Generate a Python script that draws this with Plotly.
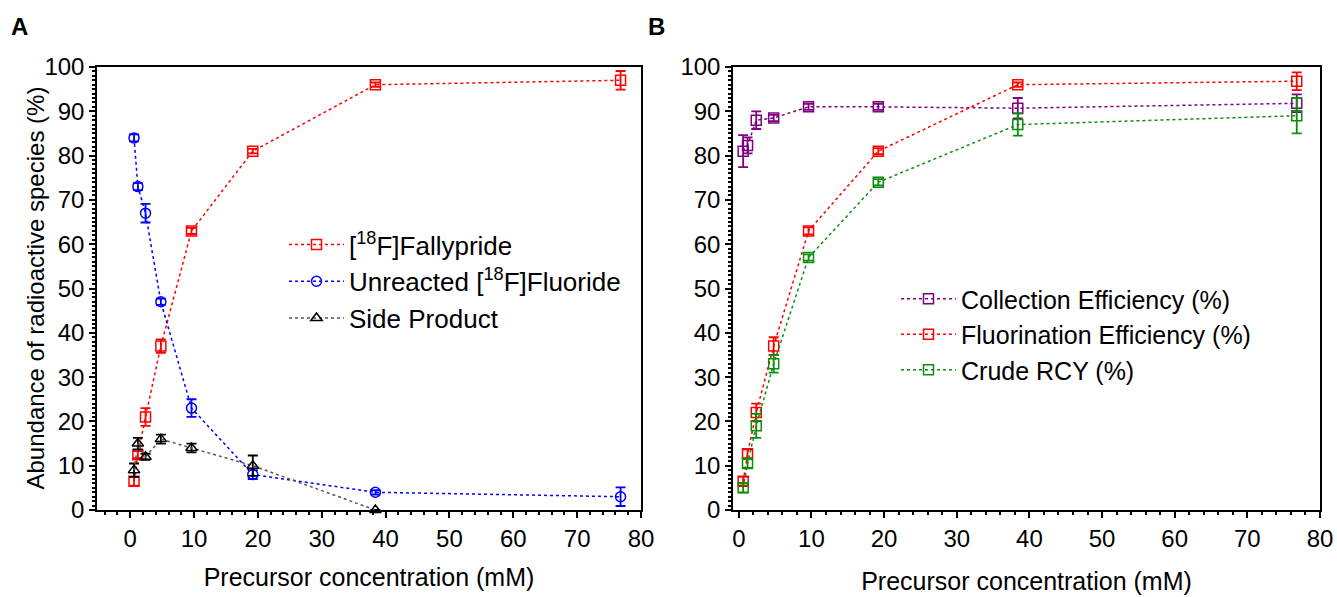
import plotly.graph_objects as go

# ---------------- data ----------------
conc = [0.6, 1.2, 2.4, 4.8, 9.6, 19.2, 38.4, 76.8]

# Panel A
fallypride = [6.5, 12.5, 21, 37, 63, 81, 96, 97]
fallypride_err = [1.0, 0.8, 2.0, 1.5, 0.7, 0.5, 0.5, 2.1]
fluoride = [84, 73, 67, 47, 23, 8, 4, 3]
fluoride_err = [0.8, 0.8, 2.1, 0.7, 2.0, 1.0, 0.5, 2.1]
side_conc = [0.6, 1.2, 2.4, 4.8, 9.6, 19.2, 38.4]
side_product = [9, 15, 12, 16, 14, 10, 0]
side_err = [1.5, 1.3, 0.7, 1.0, 1.0, 2.3, 0.0]

# Panel B
collection = [81, 82.3, 88, 88.5, 91, 91, 90.7, 91.8]
collection_err = [3.6, 1.8, 2.0, 0.7, 0.7, 0.7, 2.3, 2.0]
fluorination = [6.5, 12.7, 22, 37, 63, 81, 96, 96.8]
fluorination_err = [1.0, 1.0, 2.0, 2.0, 0.8, 0.7, 0.5, 2.0]
crude_rcy = [5, 10.5, 19, 33, 57, 74, 87, 89]
crude_err = [1.0, 1.0, 2.7, 2.0, 0.7, 0.7, 2.5, 4.0]

x_ticks = [0, 10, 20, 30, 40, 50, 60, 70, 80]
y_ticks = [0, 10, 20, 30, 40, 50, 60, 70, 80, 90, 100]

RED = "#ff0000"
BLUE = "#0000ff"
BLACK = "#000000"
PURPLE = "#800080"
GREEN = "#0b8f0b"

W, H = 1337, 597
FONT = "Liberation Sans, Arial, sans-serif"


def series(x, y, err, name, color, symbol, xaxis, yaxis, legend, line_color=None):
    return go.Scatter(
        x=x, y=y, name=name, mode="lines+markers",
        xaxis=xaxis, yaxis=yaxis, legend=legend,
        line=dict(color=line_color or color, width=1.5, dash="dot"),
        marker=dict(symbol=symbol, size=10, color=color,
                    line=dict(color=color, width=1.5)),
        error_y=dict(type="data", array=err, visible=True, color=color,
                     thickness=1.8, width=5),
        cliponaxis=False,
    )


fig = go.Figure()
fig.add_trace(series(conc, fallypride, fallypride_err, "[<sup>18</sup>F]Fallypride",
                     RED, "square-open", "x", "y", "legend"))
fig.add_trace(series(conc, fluoride, fluoride_err, "Unreacted [<sup>18</sup>F]Fluoride",
                     BLUE, "circle-open", "x", "y", "legend"))
fig.add_trace(series(side_conc, side_product, side_err, "Side Product",
                     BLACK, "triangle-up-open", "x", "y", "legend", line_color="#555555"))

fig.add_trace(series(conc, collection, collection_err, "Collection Efficiency (%)",
                     PURPLE, "square-open", "x2", "y2", "legend2"))
fig.add_trace(series(conc, fluorination, fluorination_err, "Fluorination Efficiency (%)",
                     RED, "square-open", "x2", "y2", "legend2"))
fig.add_trace(series(conc, crude_rcy, crude_err, "Crude RCY (%)",
                     GREEN, "square-open", "x2", "y2", "legend2"))

ydom = [1 - 510 / H, 1 - 67 / H]

axis_common = dict(
    showline=True, linecolor="black", linewidth=1.5, mirror=True,
    ticks="outside", ticklen=6, tickwidth=1.5, tickcolor="black",
    showgrid=False, zeroline=False,
    tickfont=dict(family=FONT, size=24, color="black"),
)

fig.update_layout(
    width=W, height=H,
    margin=dict(l=0, r=0, t=0, b=0, autoexpand=False),
    paper_bgcolor="white", plot_bgcolor="white",
    font=dict(family=FONT, size=24, color="black"),
    xaxis=dict(domain=[97 / W, 641 / W], range=[-5.2, 80], tickvals=x_ticks,
               minor=dict(dtick=2, tick0=0, ticks="outside", ticklen=3, tickcolor="black"),
               title=dict(text="Precursor concentration (mM)",
                          font=dict(family=FONT, size=25, color="black"), standoff=18),
               anchor="y", **axis_common),
    yaxis=dict(domain=ydom, range=[0, 100], tickvals=y_ticks,
               minor=dict(dtick=1, tick0=0, ticks="outside", ticklen=3, tickcolor="black"),
               anchor="x", **axis_common),
    xaxis2=dict(domain=[733 / W, 1320 / W], range=[-0.8, 80], tickvals=x_ticks,
                minor=dict(dtick=2, tick0=0, ticks="outside", ticklen=3, tickcolor="black"),
                title=dict(text="Precursor concentration (mM)",
                           font=dict(family=FONT, size=25, color="black"), standoff=22),
                anchor="y2", **axis_common),
    yaxis2=dict(domain=ydom, range=[0, 100], tickvals=y_ticks,
                minor=dict(dtick=1, tick0=0, ticks="outside", ticklen=3, tickcolor="black"),
                anchor="x2", **axis_common),
    legend=dict(x=284 / W, y=1 - 221 / H, xanchor="left", yanchor="top",
                bgcolor="rgba(0,0,0,0)", itemwidth=55, tracegroupgap=0,
                font=dict(family=FONT, size=26, color="black")),
    legend2=dict(x=896 / W, y=1 - 276 / H, xanchor="left", yanchor="top",
                 bgcolor="rgba(0,0,0,0)", itemwidth=55, tracegroupgap=0,
                 font=dict(family=FONT, size=25, color="black")),
    annotations=[
        dict(text="Abundance of radioactive species (%)", textangle=-90,
             x=35 / W, y=(1 - 510 / H + 1 - 67 / H) / 2, xref="paper", yref="paper",
             xanchor="center", yanchor="middle", showarrow=False,
             font=dict(family=FONT, size=24, color="black")),
        dict(text="<b>A</b>", x=19 / W, y=1 - 26 / H, xref="paper", yref="paper",
             xanchor="center", yanchor="middle",
             showarrow=False, font=dict(family=FONT, size=24, color="black")),
        dict(text="<b>B</b>", x=656 / W, y=1 - 26 / H, xref="paper", yref="paper",
             xanchor="center", yanchor="middle",
             showarrow=False, font=dict(family=FONT, size=24, color="black")),
    ],
)

fig.write_html(
    "out.html",
    config={"displayModeBar": False},
    post_script="document.body.style.margin='0';document.body.style.padding='0';",
)
